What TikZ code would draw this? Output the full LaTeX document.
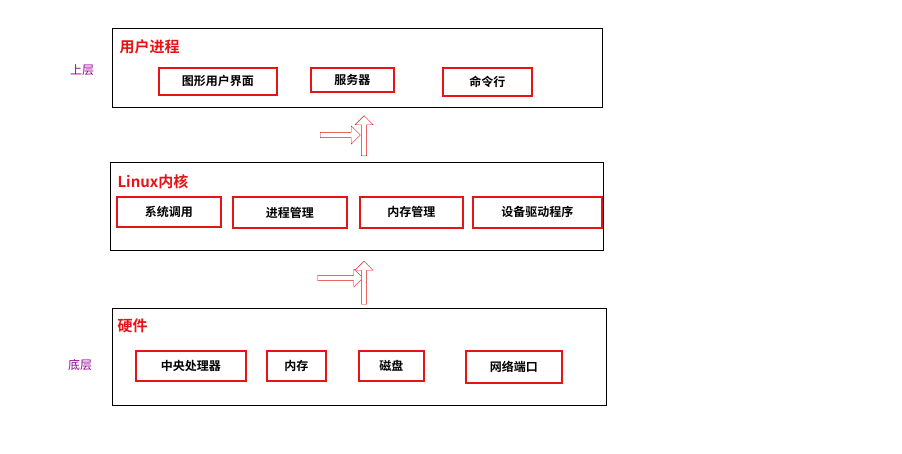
\documentclass[tikz,border=0pt]{standalone}
\usepackage{fontspec}
\newfontfamily\cjk{Noto Sans CJK SC}[BoldFont={Noto Sans CJK SC Bold}]
\usetikzlibrary{shapes.arrows, positioning}
\definecolor{boxred}{RGB}{230, 20, 20}
\definecolor{layerpurple}{RGB}{150, 0, 150}

\begin{document}
\begin{tikzpicture}[x=1pt, y=-1pt,
    layer/.style={
        draw=black,
        thin
    },
    item/.style={
        rectangle,
        draw=boxred,
        line width=1.8pt,
        anchor=north west,
        inner sep=0pt,
        font=\cjk\bfseries\fontsize{12}{14}\selectfont
    },
    title/.style={
        anchor=west,
        text=boxred,
        font=\cjk\bfseries\fontsize{15}{17}\selectfont
    },
    side/.style={
        text=layerpurple,
        font=\cjk\fontsize{12}{14}\selectfont
    },
    flow/.style={
        single arrow,
        draw=boxred,
        fill=white,
        minimum height=40pt,
        minimum width=18pt,
        single arrow head extend=3pt,
        inner sep=1pt,
        shape border rotate=#1
    }
]
\useasboundingbox (0,0) rectangle (902,453);

% Layers
\draw[layer] (112,28) rectangle (602,107);
\draw[layer] (110,162) rectangle (603,250);
\draw[layer] (112,308) rectangle (606,405);

% Titles
\node[title] (user) at (116,47) {用户进程};
\node[title] (kernel) at (114,182) {Linux内核};
\node[title] (hw) at (114,326) {硬件};

% Side labels
\node[side] (upper) at (82,70) {上层};
\node[side] (lower) at (80,365) {底层};

% Upper items
\node[item, minimum width=118pt, minimum height=27pt] (gui) at (158,67) {图形用户界面};
\node[item, minimum width=83pt, minimum height=24pt] (server) at (310,67) {服务器};
\node[item, minimum width=89pt, minimum height=28pt] (shell) at (442,67) {命令行};

% Kernel items
\node[item, minimum width=104pt, minimum height=30pt] (syscall) at (116,196) {系统调用};
\node[item, minimum width=114pt, minimum height=31pt] (proc) at (232,196) {进程管理};
\node[item, minimum width=103pt, minimum height=31pt] (mem) at (359,196) {内存管理};
\node[item, minimum width=129pt, minimum height=31pt] (drv) at (472,196) {设备驱动程序};

% Hardware items
\node[item, minimum width=110pt, minimum height=30pt] (cpu) at (135,350) {中央处理器};
\node[item, minimum width=59pt, minimum height=30pt] (ram) at (266,350) {内存};
\node[item, minimum width=65pt, minimum height=30pt] (disk) at (358,350) {磁盘};
\node[item, minimum width=96pt, minimum height=32pt] (net) at (465,350) {网络端口};

% Arrows between layers
\node[flow=-90] (down1) at (339,135) {};
\node[flow=90] (up1) at (364,137) {};
\node[flow=-90, minimum height=45pt] (down2) at (339,278) {};
\node[flow=90, minimum height=43pt] (up2) at (364,284) {};

\end{tikzpicture}
\end{document}
